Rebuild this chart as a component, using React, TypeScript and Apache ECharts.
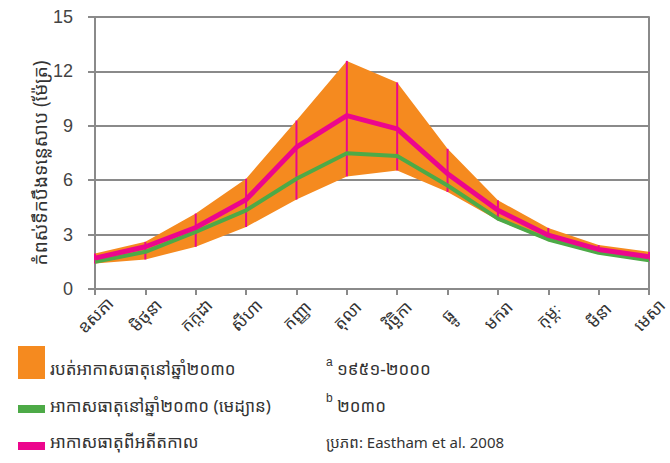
import React, { useEffect, useRef } from "react";
import * as echarts from "echarts";

const months = ["ឧសភា", "មិថុនា", "កក្កដា", "សីហា", "កញ្ញា", "តុលា", "វិច្ឆិកា", "ធ្នូ", "មករា", "កុម្ភៈ", "មីនា", "មេសា"];
const pastClimate = [1.7, 2.33, 3.39, 4.93, 7.82, 9.56, 8.83, 6.36, 4.34, 2.97, 2.18, 1.78];
const median2030 = [1.5, 2.05, 3.15, 4.34, 6.08, 7.49, 7.33, 5.71, 3.88, 2.73, 2.0, 1.59];
const rangeUpper = [1.96, 2.6, 4.16, 6.08, 9.29, 12.58, 11.39, 7.73, 4.89, 3.37, 2.42, 2.05];
const rangeLower = [1.41, 1.63, 2.33, 3.42, 4.93, 6.21, 6.54, 5.35, 3.79, 2.65, 1.96, 1.56];
const yAxisTitle = "កំពស់ទឹកបឹងទន្លេសាប (ម៉ែត្រ)";

const ORANGE = "#F58A1F";
const GREEN = "#4DAA47";
const PINK = "#EC068D";
const GRID = "#8a8a8a";
const KH = "'Noto Sans Khmer', 'Khmer OS', 'Noto Sans', sans-serif";
const LAT = "'Liberation Sans', Arial, sans-serif";

export default function App() {
  const ref = useRef<HTMLDivElement>(null);
  useEffect(() => {
    if (!ref.current) return;
    const chart = echarts.init(ref.current, undefined, { renderer: "svg" });
    const diff = rangeUpper.map((u, i) => +(u - rangeLower[i]).toFixed(3));
    const bars = months.map((_, i) => [i, rangeLower[i], rangeUpper[i]]);
    chart.setOption({
      animation: false,
      backgroundColor: "#fff",
      grid: { left: 95, right: 2, top: 17, bottom: 174 },
      xAxis: {
        type: "category",
        data: months,
        boundaryGap: false,
        axisLine: { lineStyle: { color: GRID, width: 2 } },
        axisTick: { show: true, alignWithLabel: true, length: 6, lineStyle: { color: GRID, width: 2 } },
        axisLabel: {
          rotate: 45,
          align: "center",
          verticalAlign: "middle",
          color: "#333",
          fontSize: 17,
          fontFamily: KH,
          margin: 26,
          interval: 0,
          hideOverlap: false,
        },
        splitLine: { show: false },
      },
      yAxis: [
        {
          type: "value",
          min: 0,
          max: 15,
          interval: 3,
          axisLine: { show: true, lineStyle: { color: GRID, width: 2 } },
          axisTick: { show: true, length: 7, lineStyle: { color: GRID, width: 2 } },
          axisLabel: { color: "#444", fontSize: 18, fontFamily: LAT, margin: 22 },
          splitLine: { show: true, lineStyle: { color: GRID, width: 2 } },
        },
        {
          type: "value",
          min: 0,
          max: 15,
          interval: 3,
          position: "right",
          axisLine: { show: true, lineStyle: { color: GRID, width: 2 } },
          axisTick: { show: false },
          axisLabel: { show: false },
          splitLine: { show: false },
        },
      ],
      series: [
        {
          type: "line",
          data: rangeLower,
          stack: "band",
          symbol: "none",
          lineStyle: { opacity: 0 },
          silent: true,
        },
        {
          type: "line",
          data: diff,
          stack: "band",
          symbol: "none",
          lineStyle: { opacity: 0 },
          areaStyle: { color: ORANGE, opacity: 1 },
          silent: true,
        },
        {
          type: "line",
          data: median2030,
          symbol: "none",
          lineStyle: { color: GREEN, width: 4 },
        },
        {
          type: "custom",
          data: bars,
          renderItem: (params: any, api: any) => {
            const i = api.value(0);
            const p1 = api.coord([i, api.value(1)]);
            const p2 = api.coord([i, api.value(2)]);
            return {
              type: "line",
              shape: { x1: p1[0], y1: p1[1], x2: p2[0], y2: p2[1] },
              style: { stroke: PINK, lineWidth: 2 },
            };
          },
          z: 3,
        },
        {
          type: "line",
          data: pastClimate,
          symbol: "none",
          lineStyle: { color: PINK, width: 5 },
          z: 4,
        },
      ],
      graphic: [
        {
          type: "text",
          x: 40,
          y: 163,
          rotation: Math.PI / 2,
          style: { text: yAxisTitle, fontSize: 19, fontFamily: KH, fill: "#333", align: "center", verticalAlign: "middle" },
        },
        { type: "rect", left: 18, top: 346, shape: { width: 27, height: 33 }, style: { fill: ORANGE } },
        { type: "text", left: 50, top: 360, style: { text: "របត់អាកាសធាតុនៅឆ្នាំ២០៣០", fontSize: 17, fontFamily: KH, fill: "#333" } },
        { type: "rect", left: 18, top: 405, shape: { width: 27, height: 8 }, style: { fill: GREEN } },
        { type: "text", left: 50, top: 397, style: { text: "អាកាសធាតុនៅឆ្នាំ២០៣០ (មេដ្យាន)", fontSize: 17, fontFamily: KH, fill: "#333" } },
        { type: "rect", left: 18, top: 442, shape: { width: 27, height: 8 }, style: { fill: PINK } },
        { type: "text", left: 50, top: 433, style: { text: "អាកាសធាតុពីអតីតកាល", fontSize: 17, fontFamily: KH, fill: "#333" } },
        { type: "text", left: 326, top: 356, style: { text: "a", fontSize: 12, fontFamily: LAT, fill: "#333" } },
        { type: "text", left: 337, top: 360, style: { text: "១៩៥១-២០០០", fontSize: 17, fontFamily: KH, fill: "#333" } },
        { type: "text", left: 326, top: 392, style: { text: "b", fontSize: 12, fontFamily: LAT, fill: "#333" } },
        { type: "text", left: 337, top: 397, style: { text: "២០៣០", fontSize: 17, fontFamily: KH, fill: "#333" } },
        { type: "text", left: 326, top: 434, style: { text: "ប្រភព: Eastham et al. 2008", fontSize: 15, fontFamily: KH, fill: "#333" } },
      ],
    });
    return () => chart.dispose();
  }, []);
  return <div ref={ref} style={{ width: 670, height: 463, position: "absolute", left: 0, top: 0 }} />;
}
